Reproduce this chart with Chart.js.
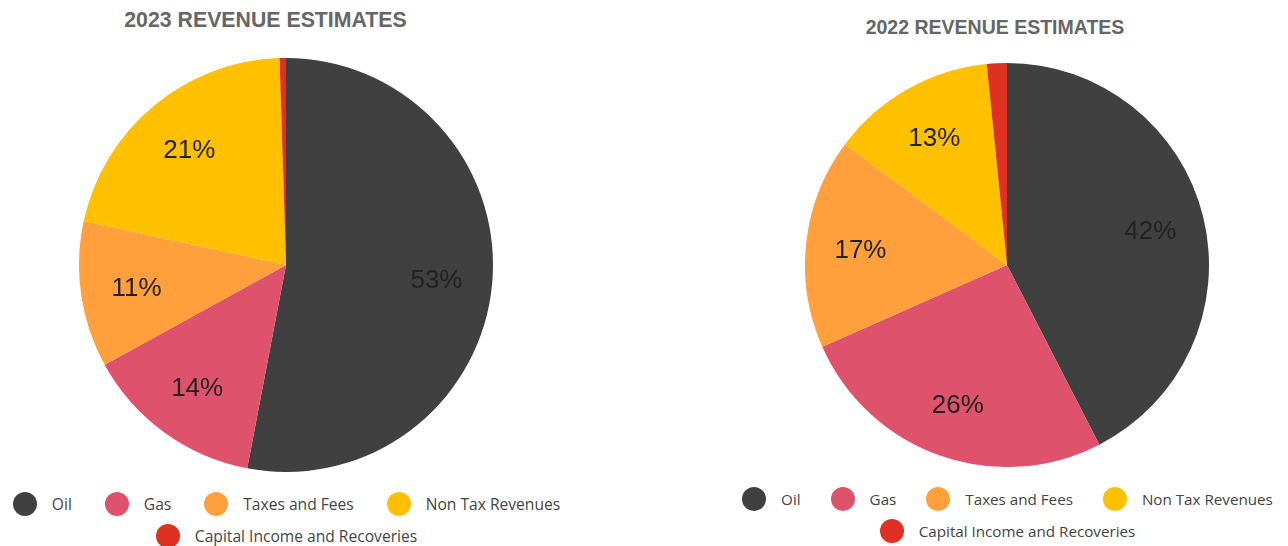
<!DOCTYPE html>
<html>
<head>
<meta charset="utf-8">
<script src="https://cdn.jsdelivr.net/npm/chart.js@4"></script>
<style>
  body { margin: 0; background: #fff; width: 1288px; height: 546px; position: relative; overflow: hidden; }
  .title { position: absolute; font-family: "Liberation Sans", Arial, sans-serif; font-weight: bold; color: #666; text-align: center; line-height: 24px; white-space: nowrap; }
  .pie { position: absolute; }
  .legend { position: absolute; font-family: "Open Sans", sans-serif; color: #444; white-space: nowrap; }
  .row { display: flex; justify-content: center; align-items: center; height: 32px; }
  .item { display: flex; align-items: center; }
  .dot { width: 24px; height: 24px; border-radius: 50%; margin-right: 15px; }
</style>
</head>
<body>
<div class="title" id="t1" style="left:0;width:531px;top:8px;font-size:21.3px;"></div>
<div class="title" id="t2" style="left:865px;width:260px;top:15px;font-size:19.5px;"></div>
<div class="pie" style="left:79px;top:58px;width:414px;height:414px;"><canvas id="chart1"></canvas></div>
<div class="pie" style="left:805px;top:63px;width:404px;height:404px;"><canvas id="chart2"></canvas></div>
<div class="legend" id="lg1" style="left:0;width:573px;top:488px;font-size:15.6px;"></div>
<div class="legend" id="lg2" style="left:727px;width:561px;top:483px;font-size:15.2px;"></div>
<script>
// data
const categories = ["Oil", "Gas", "Taxes and Fees", "Non Tax Revenues", "Capital Income and Recoveries"];
const colors = ["#404040", "#DE536B", "#FFA03C", "#FFC000", "#DE3121"];
const values2023 = [53, 14, 11.4, 21.1, 0.5];
const values2022 = [42.4, 25.9, 16.8, 13.2, 1.6];
const title2023 = "2023 REVENUE ESTIMATES";
const title2022 = "2022 REVENUE ESTIMATES";

// percent labels inside the slices
const pctLabels = {
  id: "pctLabels",
  afterDatasetsDraw(chart) {
    const ctx = chart.ctx;
    const ds = chart.data.datasets[0];
    const total = ds.data.reduce((a, b) => a + b, 0);
    chart.getDatasetMeta(0).data.forEach((arc, i) => {
      const pct = ds.data[i] / total * 100;
      if (pct < 5) return;
      const mid = (arc.startAngle + arc.endAngle) / 2;
      const r = arc.outerRadius * 0.73;
      ctx.save();
      ctx.font = "26px 'Liberation Sans', Arial, sans-serif";
      ctx.fillStyle = "#222";
      ctx.textAlign = "center";
      ctx.textBaseline = "middle";
      ctx.fillText(Math.round(pct) + "%", arc.x + Math.cos(mid) * r, arc.y + Math.sin(mid) * r + 2);
      ctx.restore();
    });
  }
};

function makePie(id, values) {
  const ctx = document.getElementById(id).getContext("2d");
  return new Chart(ctx, {
    type: "pie",
    data: {
      labels: categories,
      datasets: [{
        data: values,
        backgroundColor: colors,
        borderWidth: 0
      }]
    },
    options: {
      responsive: true,
      maintainAspectRatio: false,
      animation: false,
      layout: { padding: 0 },
      plugins: {
        legend: { display: false },
        title: { display: false },
        tooltip: { enabled: false }
      }
    },
    plugins: [pctLabels]
  });
}

function makeLegend(id, gap) {
  const el = document.getElementById(id);
  const rows = [categories.slice(0, 4), categories.slice(4)];
  let k = 0;
  rows.forEach(r => {
    const row = document.createElement("div");
    row.className = "row";
    r.forEach((name, j) => {
      const item = document.createElement("div");
      item.className = "item";
      if (j < r.length - 1) item.style.marginRight = gap + "px";
      const dot = document.createElement("span");
      dot.className = "dot";
      dot.style.background = colors[k++];
      const txt = document.createElement("span");
      txt.textContent = name;
      item.appendChild(dot);
      item.appendChild(txt);
      row.appendChild(item);
    });
    el.appendChild(row);
  });
}

document.getElementById("t1").textContent = title2023;
document.getElementById("t2").textContent = title2022;
makePie("chart1", values2023);
makePie("chart2", values2022);
makeLegend("lg1", 33);
makeLegend("lg2", 30);
</script>
</body>
</html>
